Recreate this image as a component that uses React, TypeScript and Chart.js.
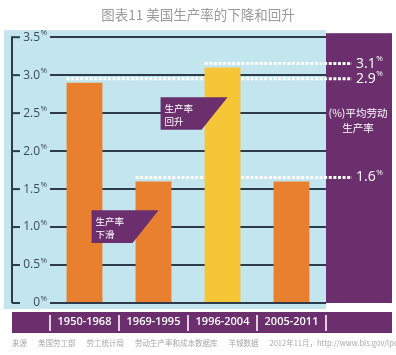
import React, { useEffect, useRef } from "react";
import { Chart, registerables } from "chart.js";

Chart.register(...registerables);

const TITLE = "图表11 美国生产率的下降和回升";
const CATEGORIES = ["1950-1968", "1969-1995", "1996-2004", "2005-2011"];
const PRODUCTIVITY = [2.9, 1.6, 3.1, 1.6];
const BAR_COLORS = ["#E9802F", "#E9802F", "#F6C637", "#E9802F"];
const Y_TICKS = [0, 0.5, 1, 1.5, 2, 2.5, 3, 3.5];
const SIDE_TITLE = ["(%)平均劳动", "生产率"];
const CALLOUT_TEXTS = [["生产率", "下滑"], ["生产率", "回升"]];
const CALLOUT_BARS = [1, 2];
const CALLOUT_TOPS = [1.22, 2.71];
const CALLOUT_BOTTOMS = [0.79, 2.28];
const SOURCE = ["来源", "美国劳工部", "劳工统计局", "劳动生产率和成本数据库", "羊城数据", "2012年11月，http://www.bls.gov/lpc/"];

const BLUE = "#C3E5ED";
const PURPLE = "#6B2F6E";
const NAVY = "#2E3B4C";
const LABEL = "#3D4B5C";
const FONT = "'Open Sans', 'Noto Sans CJK SC', sans-serif";
const CJK = "'Noto Sans CJK SC', sans-serif";

const decor = {
  id: "decor",
  beforeDraw(chart: any) {
    const { ctx, chartArea: a, scales } = chart;
    const xs = scales.x;
    ctx.save();
    ctx.fillStyle = BLUE;
    ctx.fillRect(4, a.top - 7, a.right - 4, a.bottom + 6 - (a.top - 7));
    ctx.fillStyle = PURPLE;
    ctx.fillRect(a.right, a.top - 4, 66, a.bottom - a.top + 4);
    ctx.fillRect(a.left - 38, xs.top + 9, 380, 21);
    ctx.restore();
  },
  beforeDatasetsDraw(chart: any) {
    const { ctx, chartArea: a, scales } = chart;
    const ys = scales.y;
    const meta = chart.getDatasetMeta(0);
    ctx.save();
    ctx.strokeStyle = "#FFFFFF";
    ctx.lineWidth = 3;
    ctx.setLineDash([3, 1.6]);
    const seen: number[] = [];
    PRODUCTIVITY.forEach((v, i) => {
      if (seen.includes(v)) return;
      seen.push(v);
      const bar = meta.data[i];
      const left = bar.x - bar.width / 2;
      const py = ys.getPixelForValue(v) - 4;
      ctx.beginPath();
      ctx.moveTo(left, py);
      ctx.lineTo(a.right + 26, py);
      ctx.stroke();
    });
    ctx.restore();
  },
  afterDraw(chart: any) {
    const { ctx, chartArea: a, scales } = chart;
    const xs = scales.x;
    const ys = scales.y;
    const meta = chart.getDatasetMeta(0);
    const axisX = a.left - 38;
    ctx.save();

    // y axis line, tick dashes, % superscripts
    ctx.strokeStyle = NAVY;
    ctx.lineWidth = 2;
    ctx.beginPath();
    ctx.moveTo(axisX, a.top - 1);
    ctx.lineTo(axisX, a.bottom);
    ctx.stroke();
    ctx.fillStyle = LABEL;
    ctx.font = `8px ${FONT}`;
    ctx.textAlign = "left";
    ctx.textBaseline = "middle";
    Y_TICKS.forEach((v) => {
      const py = ys.getPixelForValue(v);
      ctx.beginPath();
      ctx.moveTo(axisX, py);
      ctx.lineTo(axisX + 8, py);
      ctx.stroke();
      ctx.fillText("%", a.left - 9.5, py - 4);
    });

    // bottom band separators
    ctx.strokeStyle = "#E2CDE3";
    ctx.lineWidth = 2;
    const n = CATEGORIES.length;
    for (let i = 0; i <= n; i++) {
      const px = a.left + (i * a.width) / n;
      ctx.beginPath();
      ctx.moveTo(px, xs.top + 12);
      ctx.lineTo(px, xs.top + 28);
      ctx.stroke();
    }

    // callouts
    CALLOUT_TEXTS.forEach((lines, k) => {
      const bar = meta.data[CALLOUT_BARS[k]];
      const bl = bar.x - bar.width / 2;
      const top = ys.getPixelForValue(CALLOUT_TOPS[k]);
      const bot = ys.getPixelForValue(CALLOUT_BOTTOMS[k]);
      ctx.fillStyle = PURPLE;
      ctx.beginPath();
      ctx.moveTo(bl - 44, top);
      ctx.lineTo(bl + 23, top);
      ctx.lineTo(bl - 3, bot);
      ctx.lineTo(bl - 44, bot);
      ctx.closePath();
      ctx.fill();
      ctx.fillStyle = "#FFFFFF";
      ctx.font = `9.5px ${CJK}`;
      ctx.textAlign = "left";
      ctx.textBaseline = "middle";
      lines.forEach((t, j) => ctx.fillText(t, bl - 40, top + 11 + j * 13));
    });

    // right labels
    const seen: number[] = [];
    PRODUCTIVITY.forEach((v) => {
      if (seen.includes(v)) return;
      seen.push(v);
      const py = ys.getPixelForValue(v) - 4;
      const txt = v.toFixed(1);
      ctx.fillStyle = "#FFFFFF";
      ctx.textAlign = "left";
      ctx.textBaseline = "middle";
      ctx.font = `14px ${FONT}`;
      const x0 = a.right + 30;
      ctx.fillText(txt, x0, py);
      const w = ctx.measureText(txt).width;
      ctx.font = `8px ${FONT}`;
      ctx.fillText("%", x0 + w + 0.5, py - 5);
    });

    // side title
    ctx.fillStyle = "#FFFFFF";
    ctx.font = `10.5px ${CJK}`;
    ctx.textAlign = "center";
    ctx.textBaseline = "middle";
    const sy = ys.getPixelForValue(2.5);
    SIDE_TITLE.forEach((t, j) => ctx.fillText(t, a.right + 32, sy + j * 15));

    // footer
    ctx.fillStyle = "#A8A8A8";
    ctx.font = `7.5px ${CJK}`;
    ctx.textAlign = "left";
    ctx.textBaseline = "middle";
    let fx = axisX;
    SOURCE.forEach((t) => {
      ctx.fillText(t, fx, xs.bottom + 10);
      fx += ctx.measureText(t).width + 11;
    });

    ctx.restore();
  },
};

export default function App() {
  const ref = useRef<HTMLCanvasElement | null>(null);
  useEffect(() => {
    if (!ref.current) return;
    const chart = new Chart(ref.current, {
      type: "bar",
      data: {
        labels: CATEGORIES,
        datasets: [
          {
            data: PRODUCTIVITY,
            backgroundColor: BAR_COLORS,
            borderWidth: 0,
            barPercentage: 0.52,
            categoryPercentage: 1,
          },
        ],
      },
      options: {
        responsive: false,
        animation: false,
        devicePixelRatio: 1,
        layout: { padding: { left: 0, right: 0, top: 0, bottom: 22 } },
        plugins: {
          legend: { display: false },
          tooltip: { enabled: false },
          title: {
            display: true,
            text: TITLE,
            color: "#9A9A9A",
            font: { size: 13.5, family: CJK, weight: "normal" },
            padding: { top: 7, bottom: 14 },
          },
        },
        scales: {
          x: {
            grid: { display: false, drawTicks: false },
            border: { display: false },
            ticks: { color: "#FFFFFF", font: { size: 11, family: FONT, weight: "600" }, padding: 12 },
            afterFit(s: any) {
              s.height = 30;
            },
          },
          y: {
            min: 0,
            max: 3.5,
            afterBuildTicks(s: any) {
              s.ticks = Y_TICKS.map((v) => ({ value: v }));
            },
            ticks: {
              callback: (v: any) => (Number(v) === 0 ? "0" : Number(v).toFixed(1)),
              color: LABEL,
              font: { size: 12, family: FONT },
              padding: 10,
            },
            grid: { color: NAVY, lineWidth: 2, drawTicks: false },
            border: { display: false },
            afterFit(s: any) {
              s.width = 50;
            },
          },
          yRight: {
            position: "right",
            min: 0,
            max: 3.5,
            grid: { display: false, drawTicks: false },
            border: { display: false },
            ticks: { display: false },
            afterFit(s: any) {
              s.width = 70;
            },
          },
        },
      },
      plugins: [decor],
    } as any);
    return () => chart.destroy();
  }, []);
  return (
    <div style={{ position: "fixed", left: 0, top: 0, width: 396, height: 355, background: "#FFFFFF" }}>
      <canvas ref={ref} width={396} height={355} />
    </div>
  );
}
